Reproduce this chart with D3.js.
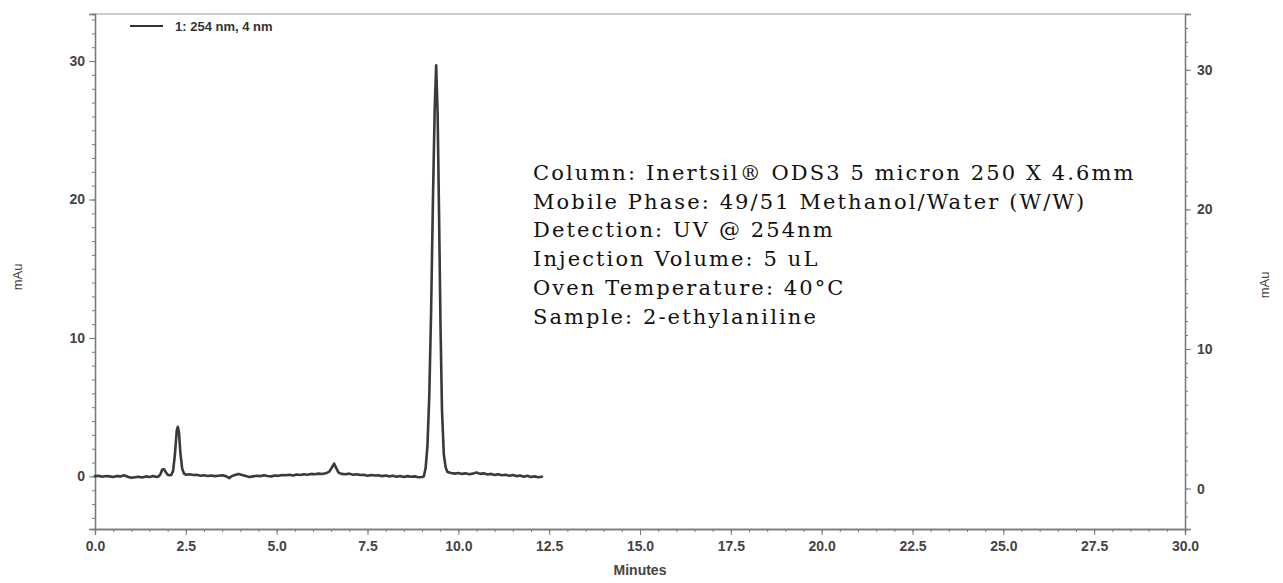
<!DOCTYPE html>
<html>
<head>
<meta charset="utf-8">
<script src="https://cdn.jsdelivr.net/npm/d3@7"></script>
<style>
  body { margin: 0; background: #fff; }
  svg { display: block; }
</style>
</head>
<body>
<svg id="chart"></svg>
<script>
// retention time (min) and absorbance (mAu)
var times = [
  0.00, 0.10, 0.20, 0.30, 0.40, 0.50, 0.60, 0.70, 0.80, 0.90,
  1.00, 1.10, 1.20, 1.30, 1.40, 1.50, 1.60, 1.70, 1.75, 1.80,
  1.85, 1.90, 1.95, 2.00, 2.05, 2.10, 2.15, 2.20, 2.25, 2.28,
  2.31, 2.35, 2.40, 2.45, 2.50, 2.60, 2.70, 2.80, 2.90, 3.00,
  3.10, 3.20, 3.30, 3.40, 3.50, 3.60, 3.70, 3.75, 3.85, 3.95,
  4.05, 4.15, 4.25, 4.35, 4.45, 4.55, 4.65, 4.75, 4.85, 4.95,
  5.05, 5.15, 5.25, 5.35, 5.45, 5.55, 5.65, 5.75, 5.85, 5.95,
  6.05, 6.15, 6.25, 6.35, 6.45, 6.52, 6.58, 6.64, 6.70, 6.78,
  6.90, 7.00, 7.10, 7.20, 7.30, 7.40, 7.50, 7.60, 7.70, 7.80,
  7.90, 8.00, 8.10, 8.20, 8.30, 8.40, 8.50, 8.60, 8.70, 8.80,
  8.90, 9.00, 9.05, 9.10, 9.15, 9.20, 9.25, 9.30, 9.35, 9.39,
  9.43, 9.47, 9.51, 9.55, 9.60, 9.65, 9.70, 9.80, 9.90, 10.0,
  10.1, 10.2, 10.3, 10.4, 10.5, 10.6, 10.7, 10.8, 10.9, 11.0,
  11.1, 11.2, 11.3, 11.4, 11.5, 11.6, 11.7, 11.8, 11.9, 12.0,
  12.1, 12.2, 12.3
];
var signal = [
  0.02, 0.05, -0.02, 0.03, 0.00, -0.05, 0.02, 0.00, 0.08, -0.03,
  -0.10, -0.06, -0.02, -0.08, 0.00, -0.05, 0.02, -0.04, 0.00, 0.15,
  0.50, 0.52, 0.30, 0.12, 0.08, 0.10, 0.40, 1.60, 3.30, 3.58,
  3.20, 1.70, 0.55, 0.20, 0.12, 0.15, 0.10, 0.12, 0.05, 0.08,
  0.03, 0.06, 0.02, 0.05, 0.08, 0.02, -0.12, 0.00, 0.10, 0.18,
  0.10, 0.02, -0.05, 0.00, 0.05, 0.02, 0.08, 0.03, 0.00, 0.06,
  0.04, 0.10, 0.08, 0.12, 0.06, 0.14, 0.10, 0.16, 0.12, 0.18,
  0.15, 0.20, 0.17, 0.22, 0.35, 0.65, 0.92, 0.60, 0.28, 0.18,
  0.15, 0.20, 0.12, 0.16, 0.10, 0.12, 0.05, 0.10, 0.06, 0.08,
  0.02, 0.06, 0.00, 0.04, -0.02, 0.03, -0.04, 0.02, -0.03, 0.00,
  -0.06, -0.04, 0.00, 0.60, 2.20, 5.80, 11.8, 19.8, 26.6, 29.7,
  26.2, 18.8, 10.8, 4.80, 1.60, 0.65, 0.32, 0.25, 0.20, 0.24,
  0.18, 0.22, 0.15, 0.20, 0.28, 0.18, 0.22, 0.14, 0.18, 0.10,
  0.16, 0.08, 0.12, 0.05, 0.10, 0.02, 0.06, -0.02, 0.04, -0.05,
  0.00, -0.06, -0.03
];

var xTicks = [0, 2.5, 5, 7.5, 10, 12.5, 15, 17.5, 20, 22.5, 25, 27.5, 30];
var yTicks = [0, 10, 20, 30];

var legendLabel = '1: 254 nm, 4 nm';
var notes = [
  'Column: Inertsil\u00AE ODS3 5 micron 250 X 4.6mm',
  'Mobile Phase: 49/51 Methanol/Water (W/W)',
  'Detection: UV @ 254nm',
  'Injection Volume: 5 uL',
  'Oven Temperature: 40\u00B0C',
  'Sample: 2-ethylaniline'
];

var data = times.map(function (t, i) { return { t: t, v: signal[i] }; });

var svgWidth = 1283, svgHeight = 583;
var margin = { top: 14, right: 98, bottom: 54, left: 95 };
var width = svgWidth - margin.left - margin.right;
var height = svgHeight - margin.top - margin.bottom;

var svg = d3.select('#chart')
    .attr('width', svgWidth)
    .attr('height', svgHeight)
    .style('font-family', '"Liberation Sans", Arial, sans-serif');

var g = svg.append('g')
    .attr('transform', 'translate(' + margin.left + ',' + margin.top + ')');

var x = d3.scaleLinear().domain([0, 30]).range([0, width]);
var y = d3.scaleLinear().domain([-3.8, 33.4]).range([height, 0]);
// the scanned right axis sits a little lower than the left one
var yRight = d3.scaleLinear().domain([-2.9, 34.0]).range([height, 0]);

var axisColor = '#7a7a7a';
var labelColor = '#444';

function styleAxis(sel) {
    sel.select('.domain').attr('stroke', axisColor).attr('stroke-width', 1.3);
    sel.selectAll('.tick line').attr('stroke', axisColor);
    sel.selectAll('.tick text')
        .attr('fill', labelColor)
        .attr('font-size', 14)
        .attr('font-weight', 'bold');
}

// top frame line
g.append('line')
    .attr('x1', 0).attr('x2', width)
    .attr('y1', 0).attr('y2', 0)
    .attr('stroke', '#999')
    .attr('stroke-width', 1.2);

// minor ticks
g.append('g')
    .attr('transform', 'translate(0,' + height + ')')
    .call(d3.axisBottom(x).tickValues(d3.range(0, 30.01, 0.5)).tickSize(3).tickFormat(''))
    .call(styleAxis);
g.append('g')
    .call(d3.axisLeft(y).tickValues(d3.range(-3, 34, 1)).tickSize(3).tickFormat(''))
    .call(styleAxis);
g.append('g')
    .attr('transform', 'translate(' + width + ',0)')
    .call(d3.axisRight(yRight).tickValues(d3.range(-2, 34, 1)).tickSize(3).tickFormat(''))
    .call(styleAxis);

// major ticks with labels
g.append('g')
    .attr('transform', 'translate(0,' + height + ')')
    .call(d3.axisBottom(x).tickValues(xTicks).tickSize(6).tickPadding(6).tickFormat(d3.format('.1f')))
    .call(styleAxis);
g.append('g')
    .call(d3.axisLeft(y).tickValues(yTicks).tickSize(6).tickPadding(4))
    .call(styleAxis);
g.append('g')
    .attr('transform', 'translate(' + width + ',0)')
    .call(d3.axisRight(yRight).tickValues(yTicks).tickSize(6).tickPadding(6))
    .call(styleAxis);

// axis titles
svg.append('text')
    .attr('x', margin.left + width / 2)
    .attr('y', 575)
    .attr('text-anchor', 'middle')
    .attr('font-size', 14)
    .attr('font-weight', 'bold')
    .attr('fill', labelColor)
    .text('Minutes');

svg.append('text')
    .attr('transform', 'translate(22,277) rotate(-90)')
    .attr('text-anchor', 'middle')
    .attr('font-size', 13)
    .attr('fill', labelColor)
    .text('mAu');

svg.append('text')
    .attr('transform', 'translate(1269,285) rotate(-90)')
    .attr('text-anchor', 'middle')
    .attr('font-size', 13)
    .attr('fill', labelColor)
    .text('mAu');

// trace
var line = d3.line()
    .x(function (d) { return x(d.t); })
    .y(function (d) { return y(d.v); });

g.append('path')
    .datum(data)
    .attr('fill', 'none')
    .attr('stroke', '#3a3a3a')
    .attr('stroke-width', 2.6)
    .attr('stroke-linejoin', 'round')
    .attr('stroke-linecap', 'round')
    .attr('d', line);

// legend
var legend = g.append('g').attr('transform', 'translate(35,12)');
legend.append('line')
    .attr('x1', 0).attr('x2', 33)
    .attr('stroke', '#333')
    .attr('stroke-width', 2);
legend.append('text')
    .attr('x', 45)
    .attr('dy', '0.35em')
    .attr('font-size', 13)
    .attr('font-weight', 'bold')
    .attr('fill', '#333')
    .text(legendLabel);

// method notes
svg.append('g')
    .selectAll('text')
    .data(notes)
    .join('text')
    .attr('x', 533)
    .attr('y', function (d, i) { return 180 + i * 28.7; })
    .attr('font-family', '"DejaVu Serif", "Liberation Serif", serif')
    .attr('font-size', 21)
    .attr('letter-spacing', 2.1)
    .attr('fill', '#111')
    .text(function (d) { return d; });
</script>
</body>
</html>
